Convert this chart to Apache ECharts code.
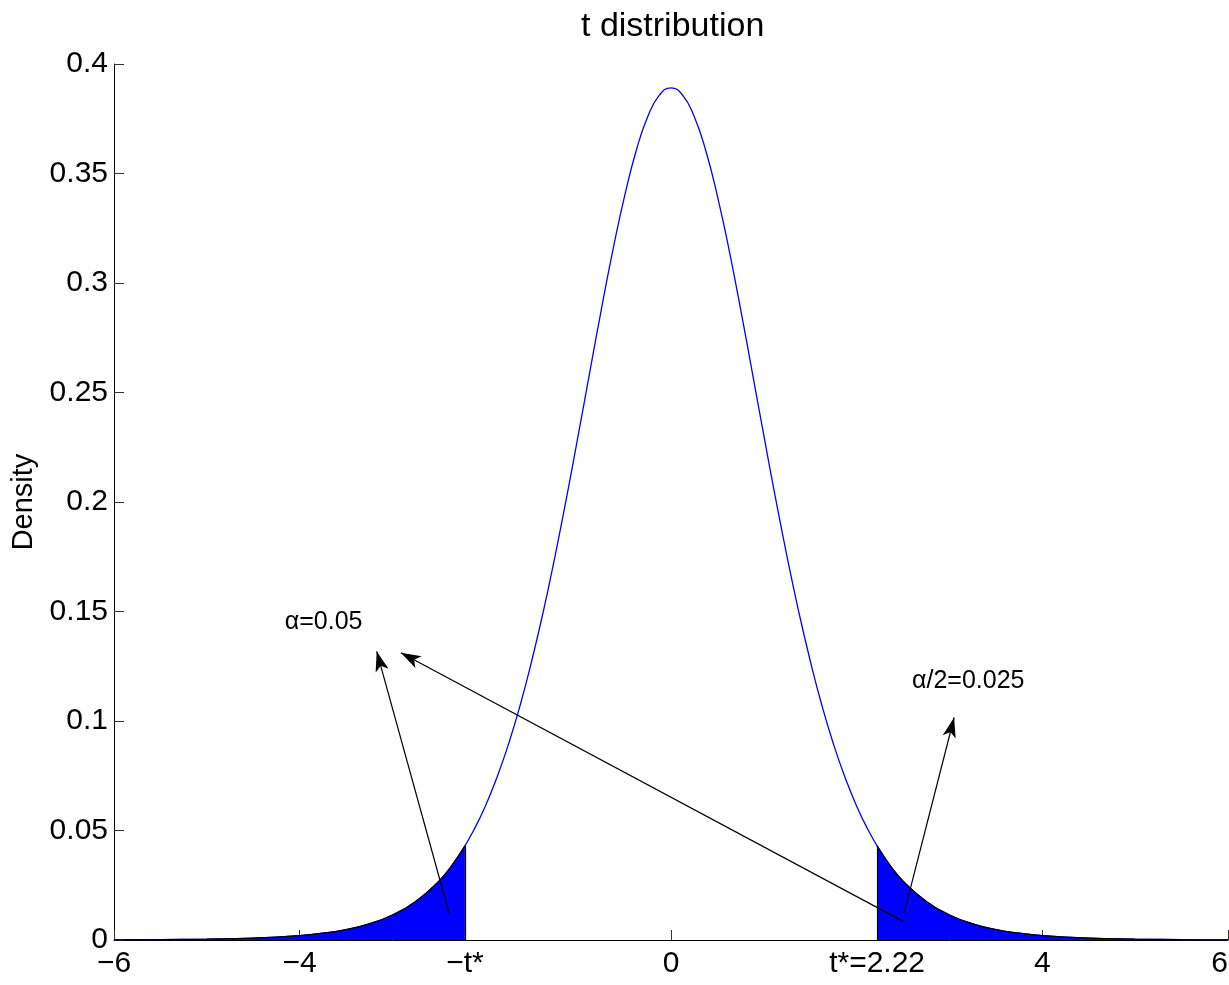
<!DOCTYPE html>
<html lang="en">
<head>
    <meta charset="UTF-8">
    <title>t distribution</title>
    <script src="https://cdn.jsdelivr.net/npm/echarts@6.0.0/dist/echarts.min.js"></script>
    <style>
        html, body { margin: 0; padding: 0; background: #fff; }
    </style>
</head>
<body>
<div id="main" style="width: 1229px;height:985px;"></div>
<script>
    // density curve
    var xs = [-6, -5.5, -5, -4.5, -4, -3.75, -3.5, -3.25, -3, -2.75, -2.5, -2.375, -2.25, -2.125, -2, -1.875, -1.75, -1.625,
        -1.5, -1.375, -1.25, -1.125, -1, -0.875, -0.75, -0.625, -0.5, -0.375, -0.25, -0.125,
        0, 0.125, 0.25, 0.375, 0.5, 0.625, 0.75, 0.875, 1, 1.125, 1.25, 1.375, 1.5,
        1.625, 1.75, 1.875, 2, 2.125, 2.25, 2.375, 2.5, 2.75, 3, 3.25, 3.5, 3.75, 4, 4.5, 5, 5.5, 6]
    var dens = [0.00009, 0.00018, 0.0004, 0.00088, 0.00203, 0.00311, 0.00478, 0.00738, 0.0114, 0.0176, 0.0269, 0.0332, 0.0409, 0.0501, 0.0611, 0.0742, 0.0895, 0.1072,
        0.1275, 0.1501, 0.1751, 0.202, 0.2304, 0.2593, 0.288, 0.3152, 0.3397, 0.3604, 0.376, 0.3858,
        0.3891, 0.3858, 0.376, 0.3604, 0.3397, 0.3152, 0.288, 0.2593, 0.2304, 0.202, 0.1751, 0.1501, 0.1275,
        0.1072, 0.0895, 0.0742, 0.0611, 0.0501, 0.0409, 0.0332, 0.0269, 0.0176, 0.0114, 0.00738, 0.00478, 0.00311, 0.00203, 0.00088, 0.0004, 0.00018, 0.00009]

    // shaded tails
    var leftTailX = [-6, -5.5, -5, -4.5, -4, -3.75, -3.5, -3.25, -3, -2.75, -2.5, -2.375, -2.22]
    var leftTailY = [0.00009, 0.00018, 0.0004, 0.00088, 0.00203, 0.00311, 0.00478, 0.00738, 0.0114, 0.0176, 0.0269, 0.0332, 0.043]
    var rightTailX = [2.22, 2.375, 2.5, 2.75, 3, 3.25, 3.5, 3.75, 4, 4.5, 5, 5.5, 6]
    var rightTailY = [0.043, 0.0332, 0.0269, 0.0176, 0.0114, 0.00738, 0.00478, 0.00311, 0.00203, 0.00088, 0.0004, 0.00018, 0.00009]
    var tStar = 2.22
    var tStarDens = 0.043

    // x tick labels
    var xTickVals = [-6, -4, -2.22, 0, 2.22, 4, 6]
    var xTickLabels = ['\u22126', '\u22124', '\u2212t*', '0', 't*=2.22', '4', '6']

    // arrows [fromX, fromY, toX, toY]
    var arrows = [
        [-2.39, 0.0122, -3.17, 0.1318],
        [2.50, 0.0085, -2.91, 0.1312],
        [2.51, 0.0122, 3.05, 0.1016]
    ]
    // text notes [x, y, text]
    var notes = [
        [-4.16, 0.1452, '\u03b1=0.05'],
        [2.596, 0.118, '\u03b1/2=0.025']
    ]

    function pairs(a, b) {
        var out = []
        for (var i = 0; i < a.length; i++) out.push([a[i], b[i]])
        return out
    }

    var arrowData = arrows.map(function (a) {
        return [
            {coord: [a[0], a[1]], symbol: 'none'},
            {coord: [a[2], a[3]], symbol: 'arrow', symbolSize: [10, 20]}
        ]
    })
    // black edges of the shaded patches
    arrowData.push([
        {coord: [-tStar, 0], symbol: 'none'},
        {coord: [-tStar, tStarDens], symbol: 'none'}
    ])
    arrowData.push([
        {coord: [tStar, 0], symbol: 'none'},
        {coord: [tStar, tStarDens], symbol: 'none'}
    ])

    var noteData = notes.map(function (n) {
        return {coord: [n[0], n[1]], value: n[2]}
    })

    var option = {
        animation: false,
        textStyle: {fontFamily: 'Liberation Sans, Arial, sans-serif'},
        title: {
            text: 't distribution',
            left: 576,
            top: 5,
            textStyle: {fontSize: 34, fontWeight: 'normal', color: '#000'}
        },
        grid: {left: 114, right: 1, top: 64, bottom: 45, outerBoundsMode: 'none'},
        xAxis: {
            type: 'value',
            min: -6,
            max: 6,
            splitLine: {show: false},
            axisLine: {onZero: false, lineStyle: {color: '#000', width: 1}},
            axisTick: {inside: true, length: 10, lineStyle: {color: '#333'}, customValues: xTickVals},
            axisLabel: {
                customValues: xTickVals,
                fontSize: 30,
                color: '#000',
                margin: 9,
                alignMaxLabel: 'right',
                formatter: function (v) {
                    var i = xTickVals.indexOf(v)
                    return i >= 0 ? xTickLabels[i] : ''
                }
            }
        },
        yAxis: {
            type: 'value',
            min: 0,
            max: 0.4,
            interval: 0.05,
            name: 'Density',
            nameLocation: 'middle',
            nameRotate: 90,
            nameGap: 72,
            nameTextStyle: {fontSize: 29, color: '#000'},
            splitLine: {show: false},
            axisLine: {show: true, onZero: false, lineStyle: {color: '#000', width: 1}},
            axisTick: {show: true, inside: true, length: 10, lineStyle: {color: '#333'}},
            axisLabel: {fontSize: 30, color: '#000', margin: 6}
        },
        series: [
            {
                name: 'density',
                type: 'line',
                data: pairs(xs, dens),
                smooth: true,
                showSymbol: false,
                lineStyle: {color: '#0000ff', width: 1.3}
            },
            {
                name: 'left tail',
                type: 'line',
                data: pairs(leftTailX, leftTailY),
                smooth: true,
                showSymbol: false,
                lineStyle: {color: '#000', width: 1.3},
                areaStyle: {color: '#0000ff', opacity: 1}
            },
            {
                name: 'right tail',
                type: 'line',
                data: pairs(rightTailX, rightTailY),
                smooth: true,
                showSymbol: false,
                lineStyle: {color: '#000', width: 1.3},
                areaStyle: {color: '#0000ff', opacity: 1},
                markLine: {
                    silent: true,
                    animation: false,
                    label: {show: false},
                    lineStyle: {color: '#000', width: 1.2, type: 'solid'},
                    emphasis: {disabled: true},
                    data: arrowData
                },
                markPoint: {
                    silent: true,
                    symbol: 'circle',
                    symbolSize: 0,
                    label: {
                        show: true,
                        position: 'right',
                        distance: 0,
                        fontSize: 25,
                        color: '#000',
                        formatter: function (p) { return p.value }
                    },
                    data: noteData
                }
            }
        ]
    }

    let myChart = echarts.init(document.getElementById('main'))
    myChart.setOption(option)
</script>
</body>
</html>
